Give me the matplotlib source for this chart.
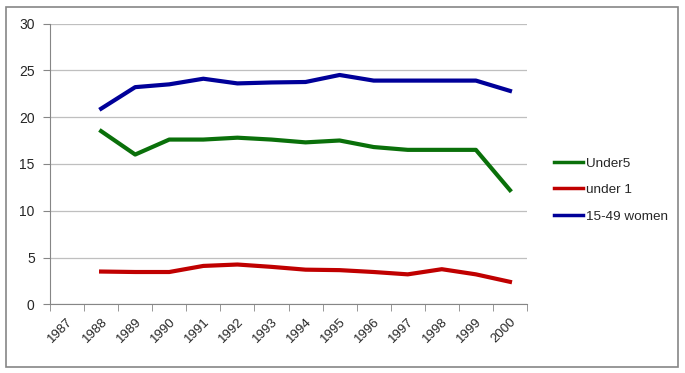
import matplotlib.pyplot as plt
import matplotlib.patches as patches
import numpy as np

# categories on the axis (first year has no data)
years = ['1987', '1988', '1989', '1990', '1991', '1992', '1993', '1994',
         '1995', '1996', '1997', '1998', '1999', '2000']
under5 = [18.5, 16.0, 17.6, 17.6, 17.8, 17.6, 17.3, 17.5, 16.8, 16.5, 16.5, 16.5, 12.2]
under1 = [3.5, 3.45, 3.45, 4.1, 4.25, 4.0, 3.7, 3.65, 3.45, 3.2, 3.75, 3.2, 2.4]
women = [20.9, 23.2, 23.5, 24.1, 23.6, 23.7, 23.75, 24.5, 23.9, 23.9, 23.9, 23.9, 22.8]

plt.rcParams['font.family'] = ['Liberation Sans', 'DejaVu Sans']

fig = plt.figure(figsize=(6.85, 3.73), dpi=100)
ax = fig.add_axes([50/685, 1-304.3/373, 477/685, 280.8/373])

x = np.arange(1, len(years))
ax.plot(x, under5, color='#0a700a', lw=3.0, label='Under5')
ax.plot(x, under1, color='#c00000', lw=3.0, label='under 1')
ax.plot(x, women, color='#000099', lw=3.0, label='15-49 women')

ax.set_xlim(-0.5, len(years) - 0.5)
ax.set_ylim(0, 30)
ax.set_yticks([0, 5, 10, 15, 20, 25, 30])
ax.yaxis.grid(True, color='#bfbfbf', lw=0.9)
ax.set_axisbelow(True)

ax.set_xticks(np.arange(len(years)))
ax.set_xticklabels(years, rotation=45, ha='right', rotation_mode='anchor')
ax.set_xticks(np.arange(-0.5, len(years)), minor=True)
ax.tick_params(axis='x', which='major', length=0, pad=8, labelsize=9.5, labelcolor='#262626')
ax.tick_params(axis='x', which='minor', length=5, color='#868686', direction='out')
ax.tick_params(axis='y', length=5, color='#868686', labelsize=10, labelcolor='#262626', pad=6)

for s in ['top', 'right']:
    ax.spines[s].set_visible(False)
ax.spines['left'].set_color('#868686')
ax.spines['bottom'].set_color('#868686')

leg = fig.legend(loc='upper left', bbox_to_anchor=(542/685, 1-145/373), frameon=False,
                 fontsize=9.7, handlelength=2.15, handletextpad=0.2, labelspacing=1.05,
                 labelcolor='#262626')
for line in leg.get_lines():
    line.set_linewidth(2.5)

# outer chart border
fig.patches.append(patches.Rectangle((6/685, 1-367/373), 672/685, 360/373,
                                     transform=fig.transFigure, fill=False,
                                     edgecolor='#868686', lw=1.2))

fig.savefig('out.png', dpi=100)
